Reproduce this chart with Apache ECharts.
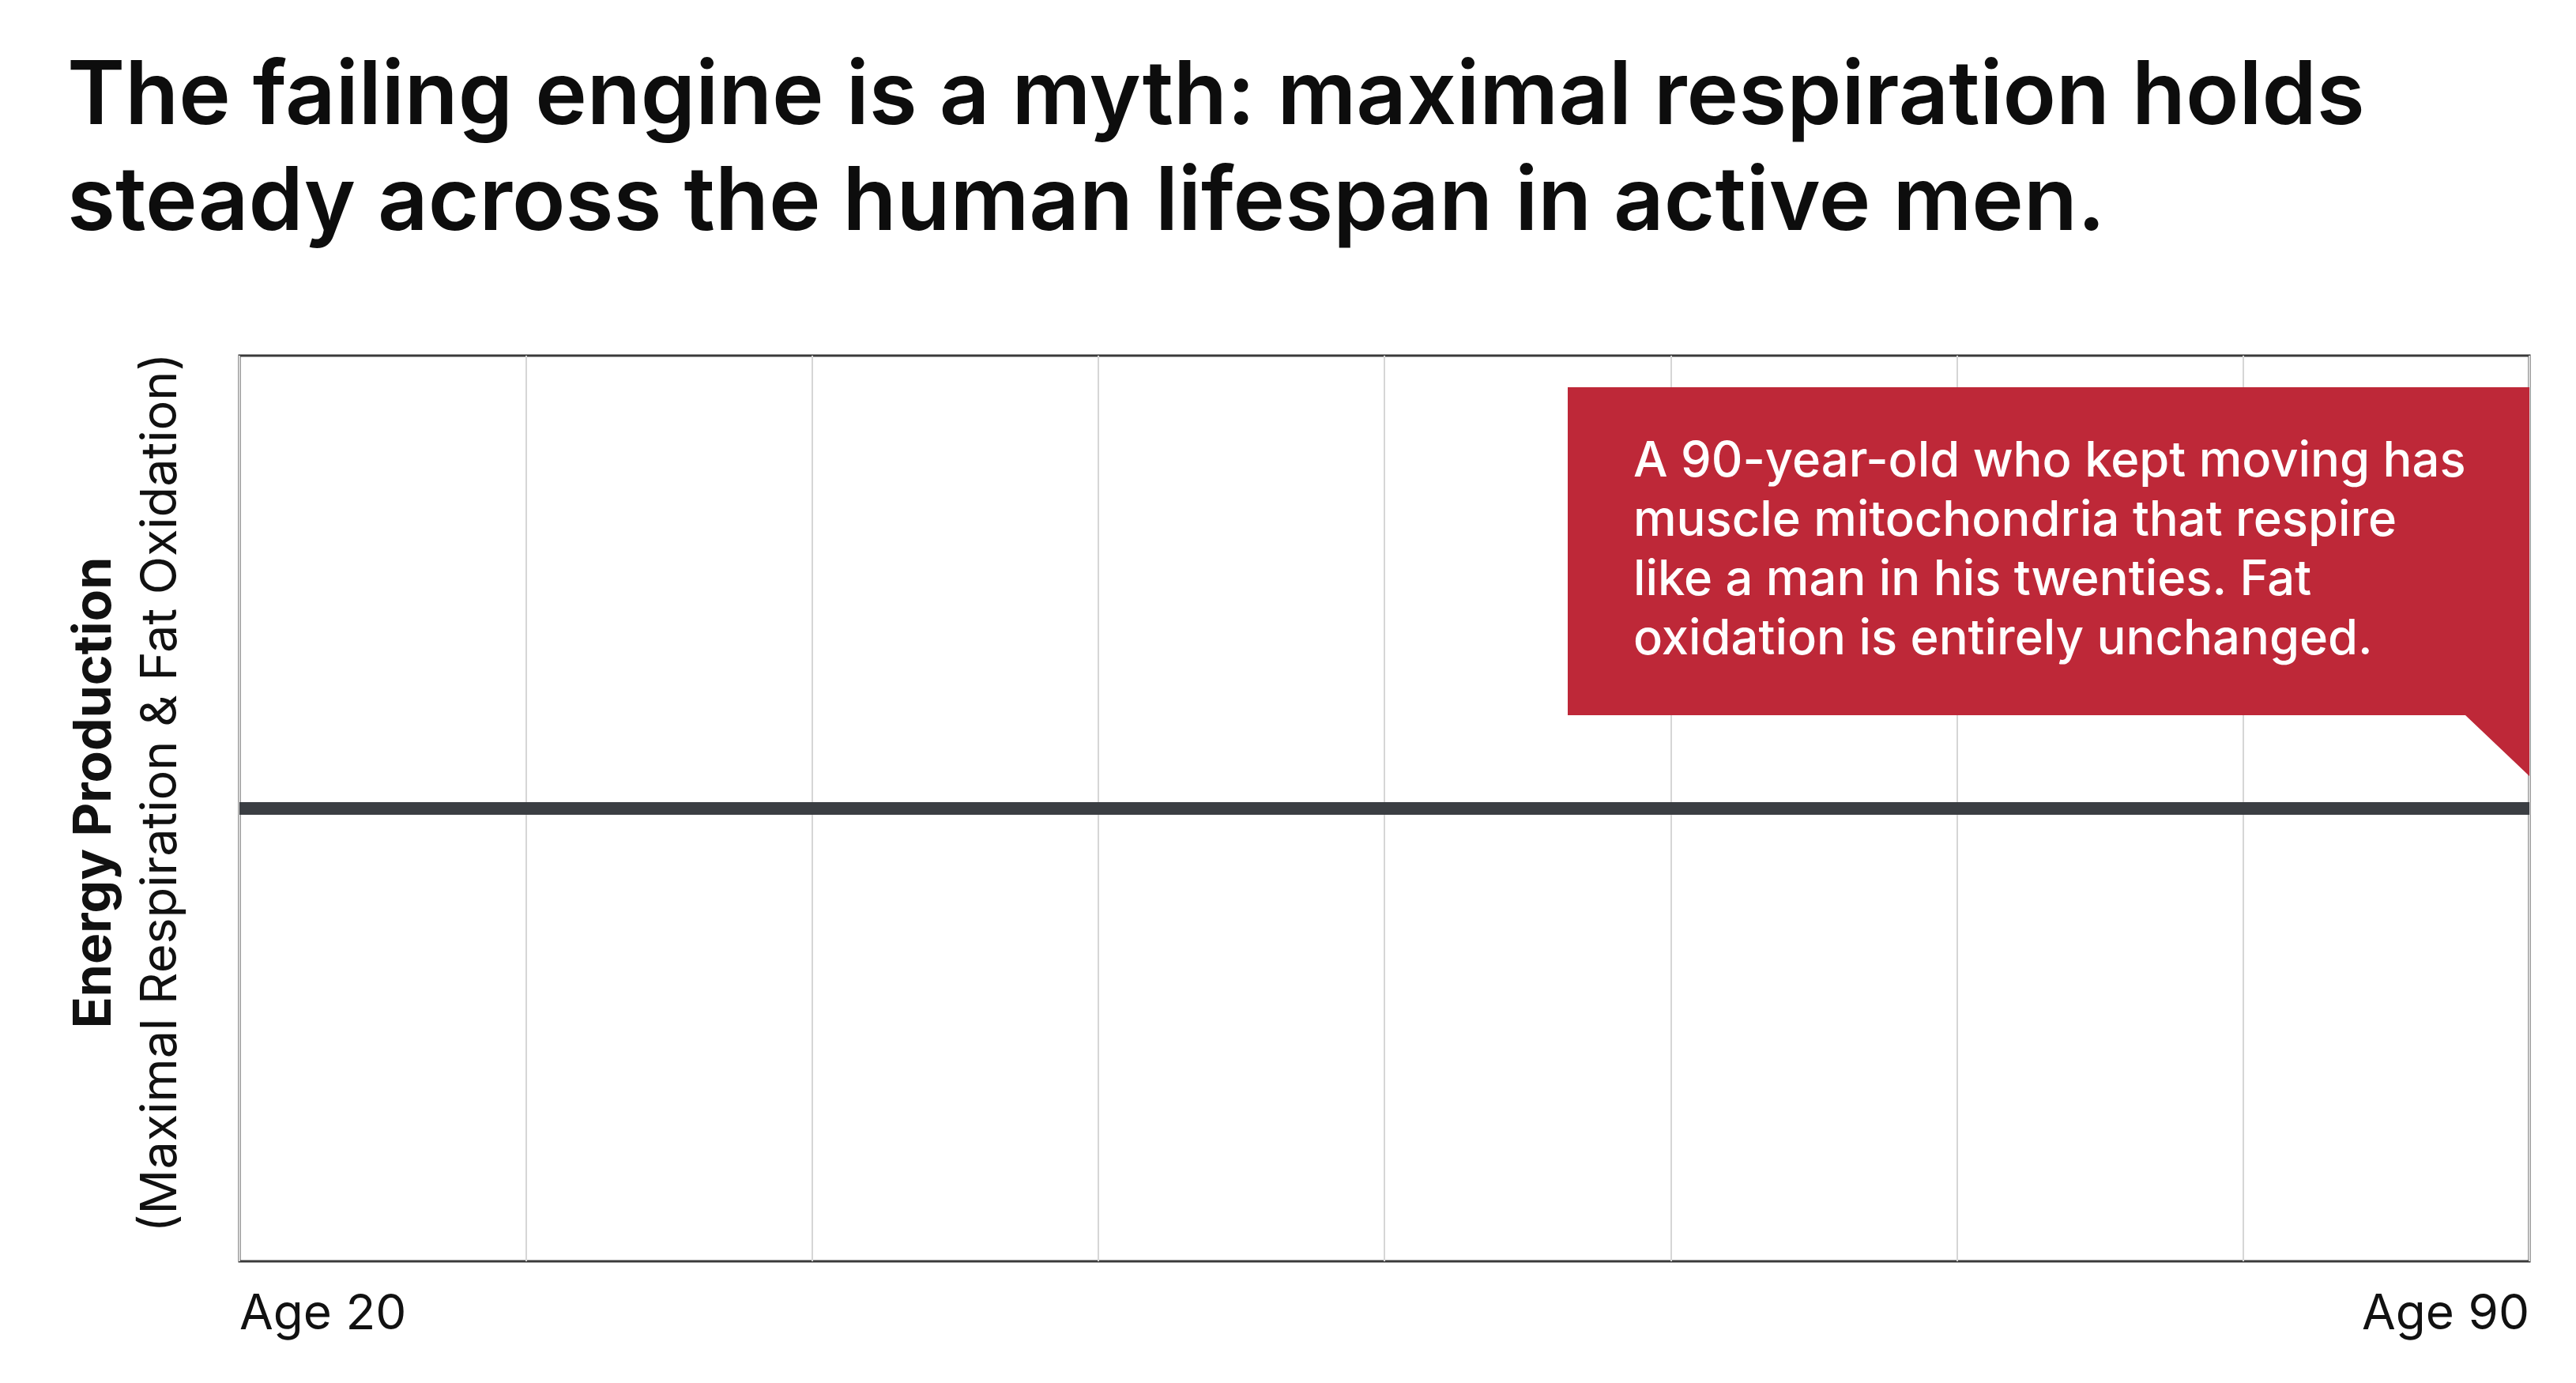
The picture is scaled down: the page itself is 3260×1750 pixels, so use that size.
<!DOCTYPE html>
<html>
<head>
<meta charset="utf-8">
<title>Maximal respiration across the lifespan</title>
<script src="https://cdn.jsdelivr.net/npm/echarts@6/dist/echarts.min.js"></script>
<style>
  html, body { margin: 0; padding: 0; background: #fff; }
  #chart { width: 3260px; height: 1750px; }
</style>
</head>
<body>
<div id="chart"></div>
<script>
// age ticks along the x axis (only the ends are labelled)
var ageTicks = ['Age 20', '', '', '', '', '', '', '', 'Age 90'];
// energy production, relative units (flat across the lifespan)
var energy = [50, 50, 50, 50, 50, 50, 50, 50, 50];

var titleText = 'The failing engine is a myth: maximal respiration holds\nsteady across the human lifespan in active men.';
var noteText = 'A 90-year-old who kept moving has\nmuscle mitochondria that respire\nlike a man in his twenties. Fat\noxidation is entirely unchanged.';

// plot box in pixels
var W = 3260, H = 1750;
var gLeft = 303, gRight = 59, gTop = 450, gBottom = 154;
var plotRight = W - gRight;

var chart = echarts.init(document.getElementById('chart'));

var option = {
  backgroundColor: '#ffffff',
  animation: false,
  title: {
    text: titleText,
    left: 80,
    top: 52,
    textStyle: {
      fontFamily: 'Inter',
      fontWeight: 600,
      fontSize: 111,
      lineHeight: 134,
      color: '#0d0d0d'
    }
  },
  grid: {
    left: gLeft,
    right: gRight,
    top: gTop,
    bottom: gBottom,
    show: true,
    borderColor: '#3a3a3a',
    borderWidth: 3,
    backgroundColor: '#ffffff'
  },
  xAxis: {
    type: 'category',
    data: ageTicks,
    boundaryGap: false,
    axisLine: { show: false },
    axisTick: { show: false },
    axisLabel: {
      interval: 0,
      margin: 36,
      fontFamily: 'Inter',
      fontSize: 62,
      color: '#111',
      alignMinLabel: 'left',
      alignMaxLabel: 'right'
    },
    splitLine: { show: true, lineStyle: { color: '#d6d6d6', width: 2 } }
  },
  yAxis: {
    type: 'value',
    min: 0,
    max: 100,
    axisLine: { show: false },
    axisTick: { show: false },
    axisLabel: { show: false },
    splitLine: { show: false },
    name: '{b|Energy Production}\n{r|(Maximal Respiration & Fat Oxidation)}',
    nameLocation: 'middle',
    nameRotate: 90,
    nameGap: 57,
    nameTextStyle: {
      align: 'center',
      padding: [0, 0, 0, 40],
      rich: {
        b: { fontFamily: 'Inter', fontWeight: 700, fontSize: 66, lineHeight: 84, color: '#111' },
        r: { fontFamily: 'Inter', fontWeight: 400, fontSize: 63, lineHeight: 84, color: '#111' }
      }
    }
  },
  series: [{
    name: 'Energy Production',
    type: 'line',
    data: energy,
    symbol: 'none',
    lineStyle: { color: '#3b3e43', width: 16 },
    z: 3
  }],
  graphic: [
    {
      type: 'polygon',
      z: 10,
      shape: {
        points: [
          [1984, 490], [plotRight, 490], [plotRight, 982],
          [3120, 905], [1984, 905]
        ]
      },
      style: { fill: '#be2838' }
    },
    {
      type: 'text',
      z: 11,
      left: 2067,
      top: 547,
      style: {
        text: noteText,
        fontFamily: 'Inter',
        fontWeight: 500,
        fontSize: 61.5,
        lineHeight: 75,
        fill: '#ffffff'
      }
    }
  ]
};

chart.setOption(option);
</script>
</body>
</html>
